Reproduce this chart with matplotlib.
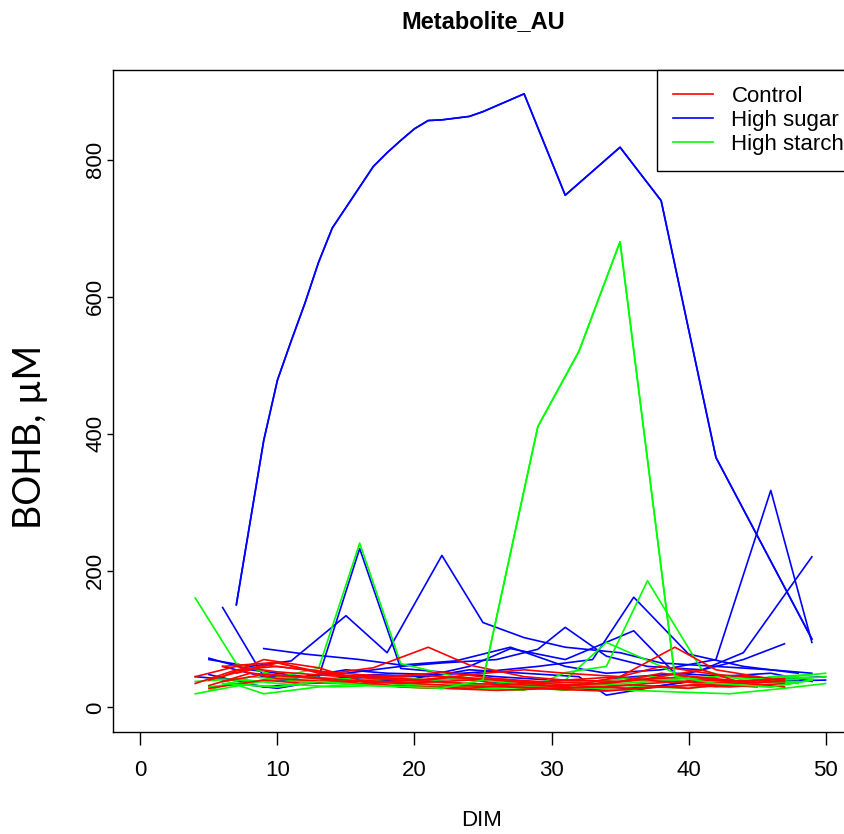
import matplotlib.pyplot as plt

# DIM sampling days and BOHB values per cow, by treatment
control_dim = [
    [5, 9, 12, 16, 19, 22, 26, 29, 33, 36, 40, 43, 47],
    [4, 7, 10, 14, 17, 21, 24, 28, 31, 35, 38, 42, 45, 47],
    [6, 9, 13, 16, 20, 23, 27, 30, 34, 37, 41, 44, 47],
    [7, 10, 14, 17, 21, 24, 28, 31, 35, 39, 42, 46],
    [5, 9, 12, 16, 19, 22, 26, 29, 33, 36, 40, 43, 47],
    [4, 7, 10, 14, 17, 21, 24, 28, 31, 35, 38, 42, 45],
    [6, 9, 13, 16, 20, 23, 27, 30, 34, 37, 41, 44, 47],
    [7, 10, 14, 17, 21, 24, 28, 31, 35, 38, 42, 46],
    [5, 8, 12, 15, 19, 22, 26, 29, 33, 36, 40, 43, 47],
    [6, 10, 13, 17, 20, 24, 27, 31, 34, 38, 41, 45],
]
control_bohb = [
    [40, 62, 55, 48, 45, 52, 42, 38, 35, 40, 45, 38, 42],
    [35, 55, 60, 50, 58, 88, 62, 45, 40, 38, 50, 42, 36, 40],
    [45, 70, 58, 40, 35, 32, 30, 28, 30, 35, 40, 38, 42],
    [50, 65, 48, 42, 38, 35, 33, 30, 45, 88, 55, 42],
    [28, 40, 35, 38, 30, 28, 25, 27, 30, 28, 32, 30, 35],
    [45, 60, 52, 46, 44, 40, 48, 55, 50, 45, 60, 48, 44],
    [38, 48, 42, 35, 40, 45, 38, 32, 35, 42, 55, 35, 30],
    [55, 42, 38, 33, 30, 28, 35, 40, 45, 38, 36, 40],
    [32, 50, 45, 40, 35, 38, 42, 36, 30, 33, 28, 35, 38],
    [60, 66, 50, 44, 48, 42, 30, 26, 24, 30, 34, 30],
]

sugar_dim = [
    [7, 8, 9, 10, 11, 12, 13, 14, 15, 16, 17, 18, 19, 20, 21, 22, 24, 25, 28, 31, 35, 38, 42, 49],
    [6, 9, 13, 16, 19, 23, 26, 30, 33, 36, 40, 44, 47],
    [5, 8, 11, 15, 18, 22, 25, 28, 31, 35, 38, 42, 46, 49],
    [9, 12, 16, 19, 23, 27, 31, 34, 38, 42, 46, 49],
    [5, 8, 12, 15, 19, 22, 26, 29, 31, 34, 37, 41, 44, 49],
    [4, 8, 11, 15, 18, 22, 25, 29, 33, 36, 40, 44, 48],
    [6, 10, 13, 17, 20, 24, 27, 31, 36, 39, 43, 47, 50],
    [5, 9, 12, 16, 20, 23, 27, 30, 34, 38, 41, 45, 50],
    [7, 10, 14, 17, 21, 24, 28, 32, 34, 39, 42, 46, 49],
]
sugar_bohb = [
    [150, 270, 390, 478, 535, 590, 650, 700, 730, 760, 790, 810, 828, 845, 857, 858, 863, 870, 896, 748, 818, 740, 365, 100],
    [146, 45, 44, 232, 57, 50, 45, 40, 38, 45, 50, 70, 93],
    [70, 60, 68, 134, 80, 222, 124, 102, 88, 80, 65, 60, 55, 50],
    [86, 78, 70, 62, 68, 88, 60, 50, 55, 70, 317, 95],
    [72, 55, 45, 50, 60, 65, 70, 85, 117, 75, 60, 55, 80, 220],
    [45, 38, 42, 55, 50, 48, 52, 60, 70, 161, 78, 60, 50],
    [60, 40, 38, 45, 42, 60, 86, 70, 112, 50, 45, 42, 45],
    [48, 30, 35, 40, 38, 42, 35, 30, 25, 32, 40, 38, 40],
    [35, 28, 42, 48, 45, 55, 50, 45, 18, 35, 45, 50, 38],
]

starch_dim = [
    [4, 7, 11, 14, 18, 21, 25, 28, 32, 35, 39, 42, 46, 49],
    [5, 9, 13, 16, 19, 23, 26, 30, 33, 37, 40, 44, 47, 50],
    [6, 10, 13, 17, 20, 22, 25, 29, 32, 35, 39, 42, 46, 49],
    [4, 8, 11, 15, 18, 22, 25, 28, 31, 34, 37, 41, 44, 48],
    [5, 8, 12, 15, 19, 22, 26, 29, 31, 34, 38, 41, 45, 50],
    [6, 9, 13, 16, 20, 23, 27, 30, 33, 36, 40, 43, 47, 50],
    [4, 7, 10, 14, 17, 21, 24, 28, 31, 35, 38, 42, 45, 49],
    [5, 9, 12, 16, 19, 23, 26, 30, 33, 37, 40, 44, 48],
]
starch_bohb = [
    [160, 64, 40, 35, 42, 38, 30, 28, 32, 35, 40, 30, 45, 48],
    [30, 40, 57, 240, 64, 45, 40, 35, 38, 45, 42, 35, 40, 45],
    [35, 30, 38, 32, 30, 28, 40, 410, 520, 680, 45, 35, 30, 40],
    [20, 35, 45, 40, 35, 30, 28, 25, 51, 60, 185, 54, 40, 35],
    [25, 45, 38, 42, 36, 32, 28, 35, 40, 95, 60, 30, 40, 50],
    [40, 20, 30, 35, 38, 42, 36, 30, 28, 25, 22, 20, 28, 35],
    [38, 42, 35, 30, 32, 28, 35, 30, 25, 38, 40, 45, 42, 44],
    [42, 38, 45, 40, 44, 36, 30, 32, 35, 30, 28, 35, 38],
]

plt.rcParams['font.family'] = ['Liberation Sans', 'DejaVu Sans']

fig = plt.figure(figsize=(8.45, 8.34), dpi=100)
ax = fig.add_axes([113 / 845, 1 - 732 / 834, 740 / 845, 662 / 834])

lw = 1.2
for d, v in zip(sugar_dim, sugar_bohb):
    ax.plot(d, v, color='#0000FF', lw=lw)
for d, v in zip(starch_dim, starch_bohb):
    ax.plot(d, v, color='#00FF00', lw=lw)
for d, v in zip(control_dim, control_bohb):
    ax.plot(d, v, color='#FF0000', lw=lw)
# the two tall sugar/starch curves stay on top
ax.plot(sugar_dim[0], sugar_bohb[0], color='#0000FF', lw=lw)
ax.plot(starch_dim[2], starch_bohb[2], color='#00FF00', lw=lw)

ax.set_xlim(-2, 52)
ax.set_ylim(-35.8, 930.8)
ax.set_xticks([0, 10, 20, 30, 40, 50])
ax.set_yticks([0, 200, 400, 600, 800])
ax.tick_params(axis='x', length=9, width=1, pad=11, labelsize=16)
ax.tick_params(axis='y', length=4, width=1, pad=1, labelsize=16)
for lab in ax.get_yticklabels():
    lab.set_rotation(90)
    lab.set_va('center')
for s in ax.spines.values():
    s.set_linewidth(1.0)

ax.set_title('Metabolite_AU', fontsize=17, fontweight='bold', pad=30)
ax.set_xlabel('DIM', fontsize=16, va='center')
ax.xaxis.set_label_coords((482 - 113) / 740, (732 - 820) / 662)
fig.text(30 / 845, 1 - 437 / 834, 'BOHB, \u00b5M', rotation=90, fontsize=27,
         family=['Lato', 'DejaVu Sans'], ha='center', va='center')

h = [plt.Line2D([], [], color=c, lw=lw) for c in ['#FF0000', '#0000FF', '#00FF00']]
leg = ax.legend(h, ['Control', 'High sugar', 'High starch'], loc='upper left',
                bbox_to_anchor=((657 - 113) / 740, 1.0), borderaxespad=0,
                fontsize=16, fancybox=False, edgecolor='black', framealpha=1,
                handlelength=1.8, handletextpad=0.85, labelspacing=0.15, borderpad=0.7)
leg.get_frame().set_linewidth(1.0)

fig.savefig('out.png', dpi=100)
